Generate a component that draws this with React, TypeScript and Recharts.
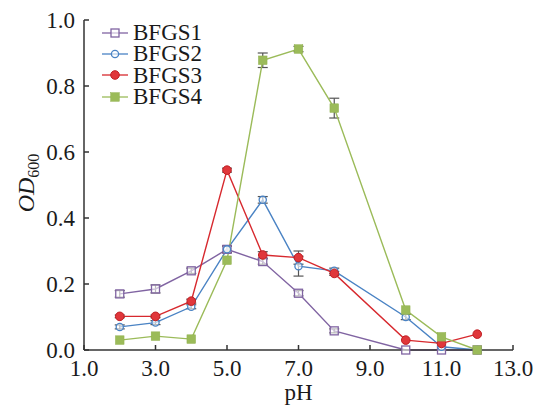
import React from 'react';
import { LineChart, Line, XAxis, YAxis, ErrorBar, Legend } from 'recharts';

const PH = [2, 3, 4, 5, 6, 7, 8, 10, 11, 12];
const BFGS1 = [0.17, 0.185, 0.24, 0.305, 0.268, 0.172, 0.058, 0, 0, 0];
const BFGS2 = [0.07, 0.083, 0.131, 0.305, 0.455, 0.254, 0.24, 0.1, 0.01, 0];
const BFGS3 = [0.102, 0.102, 0.148, 0.545, 0.288, 0.28, 0.232, 0.03, 0.02, 0.048];
const BFGS4 = [0.03, 0.042, 0.033, 0.272, 0.878, 0.912, 0.733, 0.121, 0.04, 0];
const ERR1 = [0.01, 0.012, 0.008, 0.01, 0.008, 0.008, 0.006, 0, 0, 0];
const ERR2 = [0.006, 0.006, 0.006, 0.01, 0.01, 0.03, 0.008, 0.008, 0, 0];
const ERR3 = [0.004, 0.004, 0.006, 0.006, 0.01, 0.02, 0.006, 0, 0, 0];
const ERR4 = [0, 0, 0, 0, 0.022, 0.008, 0.03, 0, 0, 0];
const X_TICKS = [1, 3, 5, 7, 9, 11, 13];
const Y_TICKS = [0, 0.2, 0.4, 0.6, 0.8, 1.0];
const SERIES = ['BFGS1', 'BFGS2', 'BFGS3', 'BFGS4'];
const COLORS = ['#8064a2', '#4a83c4', '#d7292e', '#9bbb59'];

const data = PH.map((p, i) => ({
  ph: p,
  BFGS1: BFGS1[i], e1: ERR1[i],
  BFGS2: BFGS2[i], e2: ERR2[i],
  BFGS3: BFGS3[i], e3: ERR3[i],
  BFGS4: BFGS4[i], e4: ERR4[i],
}));

const FONT = '"Liberation Serif", "Times New Roman", serif';

function Marker({ idx, cx, cy }: { idx: number; cx: number; cy: number }) {
  const c = COLORS[idx];
  if (idx === 0) return <rect x={cx - 4} y={cy - 4} width={8} height={8} fill="#fff" fillOpacity={0.6} stroke={c} strokeWidth={1.3} />;
  if (idx === 1) return <circle cx={cx} cy={cy} r={3.6} fill="#fff" fillOpacity={0.6} stroke={c} strokeWidth={1.3} />;
  if (idx === 2) return <circle cx={cx} cy={cy} r={4.3} fill="#e0373b" stroke="#c01f24" strokeWidth={1} />;
  return <rect x={cx - 4.3} y={cy - 4.3} width={8.6} height={8.6} fill="#9bbb59" stroke="#8fb04c" strokeWidth={0.5} />;
}

const makeDot = (idx: number) => (props: any) => {
  const { cx, cy, index } = props;
  if (cx == null || cy == null) return <g key={index} />;
  return <g key={`d${idx}-${index}`}><Marker idx={idx} cx={cx} cy={cy} /></g>;
};

const LegendContent = () => (
  <div style={{ fontFamily: FONT, fontSize: 23, color: '#1a1a1a' }}>
    {SERIES.map((s, i) => (
      <div key={s} style={{ display: 'flex', alignItems: 'center', height: 21.3 }}>
        <svg width={32} height={20} style={{ display: 'block' }}>
          <line x1={1} x2={27} y1={10} y2={10} stroke={COLORS[i]} strokeWidth={1.3} />
          <Marker idx={i} cx={14} cy={10} />
        </svg>
        <span style={{ lineHeight: '21px' }}>{s}</span>
      </div>
    ))}
  </div>
);

const YLabel = () => (
  <text
    x={34}
    y={0}
    transform="rotate(-90, 34, 183) translate(0, 183)"
    textAnchor="middle"
    fontFamily={FONT}
    fill="#1a1a1a"
  >
    <tspan fontStyle="italic" fontSize={24}>OD</tspan>
    <tspan fontSize={16} dy={5}>600</tspan>
  </text>
);

export default function App() {
  const tickStyle = { fontFamily: FONT, fontSize: 23, fill: '#1a1a1a' };
  return (
    <div style={{ position: 'absolute', left: 0, top: 0, width: 540, height: 407, background: '#fff' }}>
      <LineChart width={540} height={407} data={data} margin={{ top: 20, right: 27, left: 0, bottom: 0 }}>
        <XAxis
          dataKey="ph"
          type="number"
          domain={[1, 13]}
          ticks={X_TICKS}
          tickFormatter={(v: number) => v.toFixed(1)}
          tick={tickStyle}
          tickSize={-5}
          tickMargin={15}
          height={57}
          stroke="#333"
          strokeWidth={1.5}
          allowDataOverflow
          label={{ value: 'pH', position: 'insideBottom', offset: 7, style: { fontFamily: FONT, fontSize: 23, fill: '#1a1a1a' } }}
        />
        <YAxis
          type="number"
          domain={[0, 1]}
          ticks={Y_TICKS}
          tickFormatter={(v: number) => v.toFixed(1)}
          tick={tickStyle}
          tickSize={-5}
          tickMargin={14}
          width={84}
          stroke="#333"
          strokeWidth={1.5}
          label={<YLabel />}
        />
        <Legend
          layout="vertical"
          align="center"
          verticalAlign="middle"
          content={<LegendContent />}
          wrapperStyle={{ position: 'absolute', left: 101, top: 22, width: 120 }}
        />
        {SERIES.map((s, i) => (
          <Line
            key={s}
            dataKey={s}
            stroke={COLORS[i]}
            strokeWidth={1.4}
            isAnimationActive={false}
            dot={makeDot(i)}
            activeDot={false}
          >
            <ErrorBar dataKey={`e${i + 1}`} width={5} stroke="#555" strokeWidth={1.2} direction="y" />
          </Line>
        ))}
      </LineChart>
    </div>
  );
}
